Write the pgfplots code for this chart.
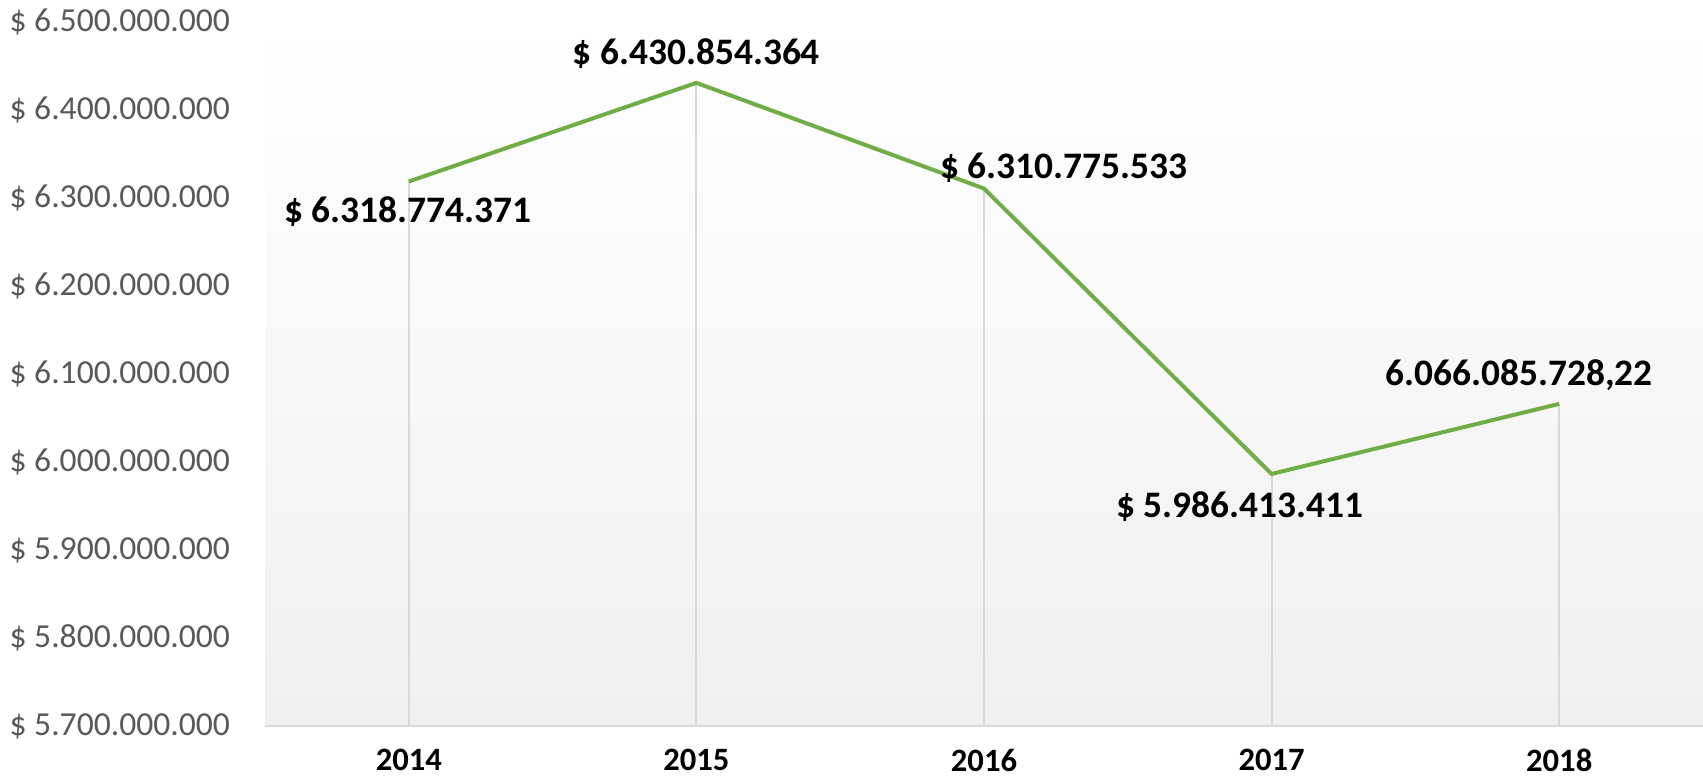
\documentclass[border=0pt]{standalone}
\usepackage{pgfplots}
\pgfplotsset{compat=1.18}
\usepackage{fontspec}
\setmainfont{Carlito}
\definecolor{lgreen}{HTML}{70AD47}
\definecolor{tickgray}{HTML}{595959}
\definecolor{linegray}{HTML}{D9D9D9}
\definecolor{bgbottom}{HTML}{F0F0F0}
\begin{document}
\begin{tikzpicture}
\path[use as bounding box] (0,0) rectangle (851.5bp,390.5bp);
\begin{axis}[
  at={(132.5bp,27.5bp)}, anchor=south west,
  width=719bp, height=352bp, scale only axis,
  xmin=-0.5, xmax=4.5,
  ymin=5700000000, ymax=6500000000,
  scaled y ticks=false,
  xtick={0,1,2,3,4},
  xticklabels={2014,2015,2016,2017,2018},
  ytick={5700000000,5800000000,5900000000,6000000000,6100000000,6200000000,6300000000,6400000000,6500000000},
  yticklabels={\$ 5.700.000.000,\$ 5.800.000.000,\$ 5.900.000.000,\$ 6.000.000.000,\$ 6.100.000.000,\$ 6.200.000.000,\$ 6.300.000.000,\$ 6.400.000.000,\$ 6.500.000.000},
  major tick length=0pt,
  separate axis lines,
  axis x line*=bottom,
  axis y line*=left,
  x axis line style={draw=linegray, line width=1bp, -},
  y axis line style={draw=none},
  xticklabel style={font=\fontsize{16.3bp}{19bp}\selectfont\bfseries, text=black, yshift=-8bp},
  yticklabel style={font=\fontsize{16.8bp}{19bp}\selectfont, text=tickgray, xshift=-14bp},
  axis background/.style={top color=white, bottom color=bgbottom},
  clip=true,
]
\addplot[ycomb, draw=linegray, line width=1bp, mark=none] coordinates {
  (0,6318774371) (1,6430854364) (2,6310775533) (3,5986413411) (4,6066085728.22)
};
\addplot[lgreen, line width=2bp, mark=none] coordinates {
  (0,6318774371) (1,6430854364) (2,6310775533) (3,5986413411) (4,6066085728.22)
};
\begin{scope}[every node/.style={font=\fontsize{18.7bp}{21bp}\selectfont\bfseries, text=black, anchor=center}]
\node[xshift=-0.5bp, yshift=-15bp] at (axis cs:0,6318774371) {\$ 6.318.774.371};
\node[yshift=14.5bp] at (axis cs:1,6430854364) {\$ 6.430.854.364};
\node[xshift=40bp, yshift=10.5bp] at (axis cs:2,6310775533) {\$ 6.310.775.533};
\node[xshift=-16bp, yshift=-16.5bp] at (axis cs:3,5986413411) {\$ 5.986.413.411};
\node[xshift=-20bp, yshift=14.5bp] at (axis cs:4,6066085728.22) {6.066.085.728,22};
\end{scope}
\end{axis}
\end{tikzpicture}
\end{document}
